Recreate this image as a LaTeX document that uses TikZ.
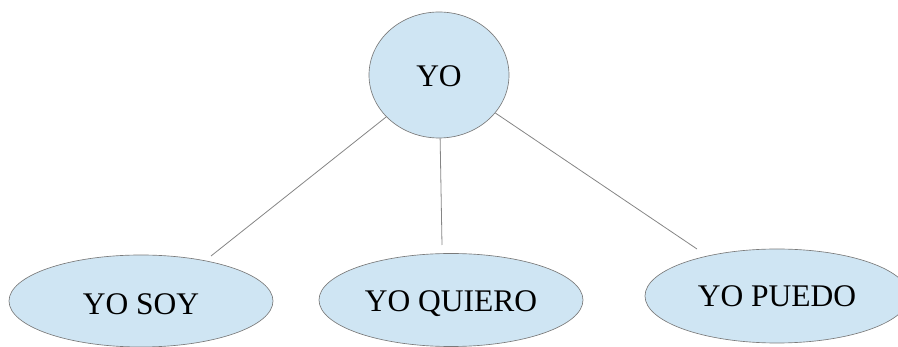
\documentclass[tikz,border=0pt]{standalone}
\usepackage{fontspec}
\setmainfont{Liberation Serif}
\usetikzlibrary{shapes.geometric}
\definecolor{bubblefill}{HTML}{CFE5F3}
\definecolor{bubbleline}{HTML}{7A7A7A}
\definecolor{linkline}{HTML}{858585}
\begin{document}
\begin{tikzpicture}[x=1pt,y=-1pt,
  bubble/.style={ellipse, draw=bubbleline, fill=bubblefill, line width=0.65pt, inner sep=0pt,
    font=\fontsize{31.5}{37}\selectfont, text=black, text depth=0pt},
  link/.style={draw=linkline, line width=0.8pt}]
\useasboundingbox (0,0) rectangle (898,347);
\clip (0,0) rectangle (898,347);
\node[bubble, minimum width=140pt, minimum height=126pt, text height=23pt] (yo) at (439,75) {YO};
\node[bubble, minimum width=264pt, minimum height=92pt, text height=27pt] (soy) at (141,301) {YO SOY};
\node[bubble, minimum width=264pt, minimum height=93pt, text height=23pt] (quiero) at (451,300) {YO QUIERO};
\node[bubble, minimum width=264pt, minimum height=94pt, text height=22pt] (puedo) at (777,296) {YO PUEDO};
\coordinate (e1) at (211,256);
\coordinate (e2) at (442,245);
\coordinate (e3) at (697,249);
\draw[link] (yo) -- (e1);
\draw[link] (yo) -- (e2);
\draw[link] (yo) -- (e3);
\end{tikzpicture}
\end{document}
